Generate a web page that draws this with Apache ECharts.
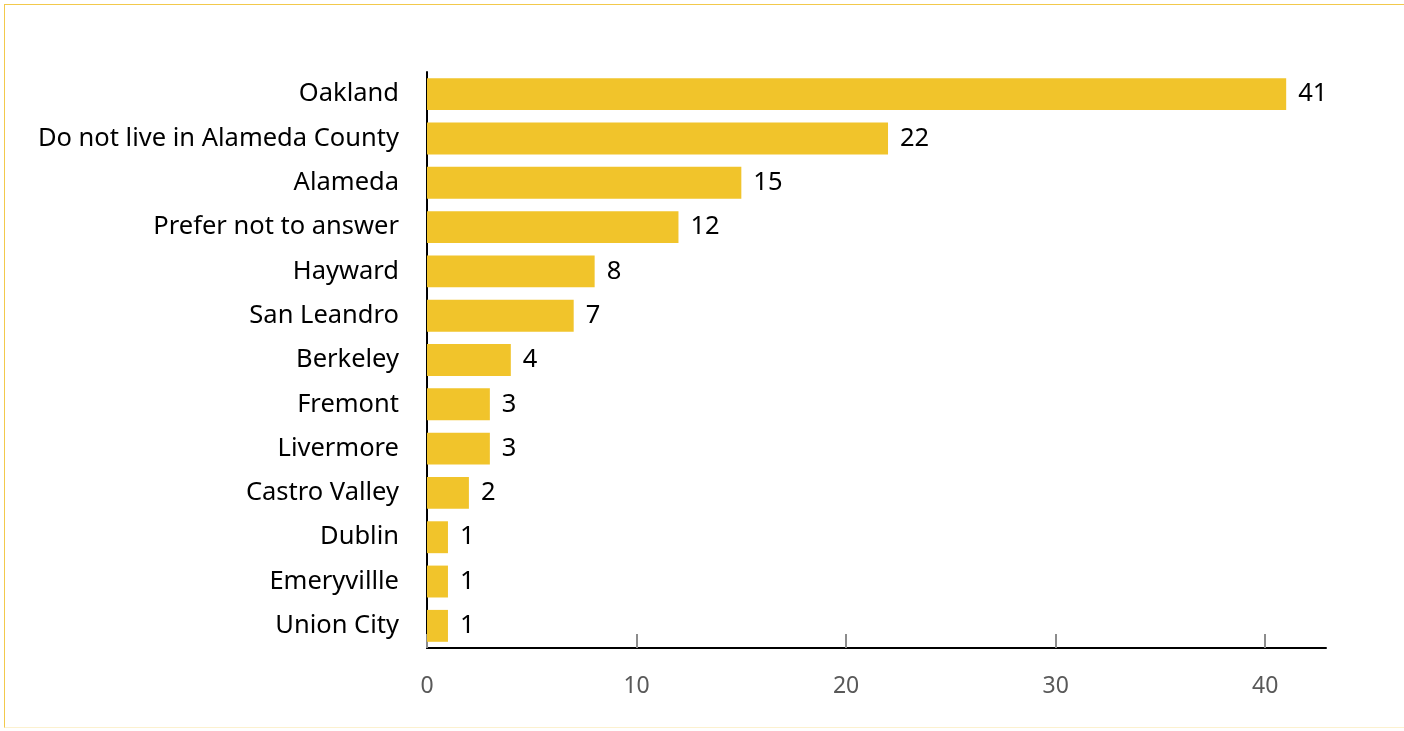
<!DOCTYPE html>
<html>
<head>
<meta charset="utf-8">
<script src="https://cdn.jsdelivr.net/npm/echarts@6/dist/echarts.min.js"></script>
<style>
  html, body { margin: 0; padding: 0; background: #ffffff; }
  #frame {
    position: absolute; left: 4px; top: 4px; width: 1400px; height: 724px;
    border-left: 1.5px solid #F2C94C; border-top: 1.5px solid #F2C94C;
    border-bottom: 1.5px solid #FCF1CF; box-sizing: border-box;
  }
  #chart { position: absolute; left: 0; top: 0; width: 1404px; height: 731px; }
</style>
</head>
<body>
<div id="frame"></div>
<div id="chart"></div>
<script>
// Respondents by city of residence
const cities = [
  'Oakland', 'Do not live in Alameda County', 'Alameda', 'Prefer not to answer',
  'Hayward', 'San Leandro', 'Berkeley', 'Fremont', 'Livermore',
  'Castro Valley', 'Dublin', 'Emeryvillle', 'Union City'
];
const counts = [41, 22, 15, 12, 8, 7, 4, 3, 3, 2, 1, 1, 1];
const xTicks = [0, 10, 20, 30, 40];

const FONT = '"Noto Sans", sans-serif';
const chart = echarts.init(document.getElementById('chart'), null, { renderer: 'canvas' });

chart.setOption({
  animation: false,
  grid: { left: 427, right: 78, top: 72, bottom: 83, containLabel: false },
  xAxis: {
    type: 'value',
    min: 0,
    max: 42.9,
    interval: 10,
    splitLine: { show: false },
    axisLine: { show: true, lineStyle: { color: '#000000', width: 2 } },
    axisTick: {
      show: true, inside: true, length: 14,
      lineStyle: { color: '#8c8c8c', width: 2 }
    },
    axisLabel: {
      color: '#595959', fontFamily: FONT, fontSize: 23, margin: 27,
      showMaxLabel: false,
      formatter: v => (xTicks.includes(v) ? String(v) : '')
    }
  },
  yAxis: {
    type: 'category',
    data: cities,
    inverse: true,
    axisLine: { show: true, lineStyle: { color: '#000000', width: 2 } },
    axisTick: { show: false },
    axisLabel: { color: '#000000', fontFamily: FONT, fontSize: 25.5, margin: 28 }
  },
  series: [{
    type: 'bar',
    data: counts,
    barCategoryGap: '28%',
    itemStyle: { color: '#F1C42B' },
    label: {
      show: true, position: 'right', distance: 12,
      color: '#000000', fontFamily: FONT, fontSize: 25.5
    }
  }]
});
</script>
</body>
</html>
